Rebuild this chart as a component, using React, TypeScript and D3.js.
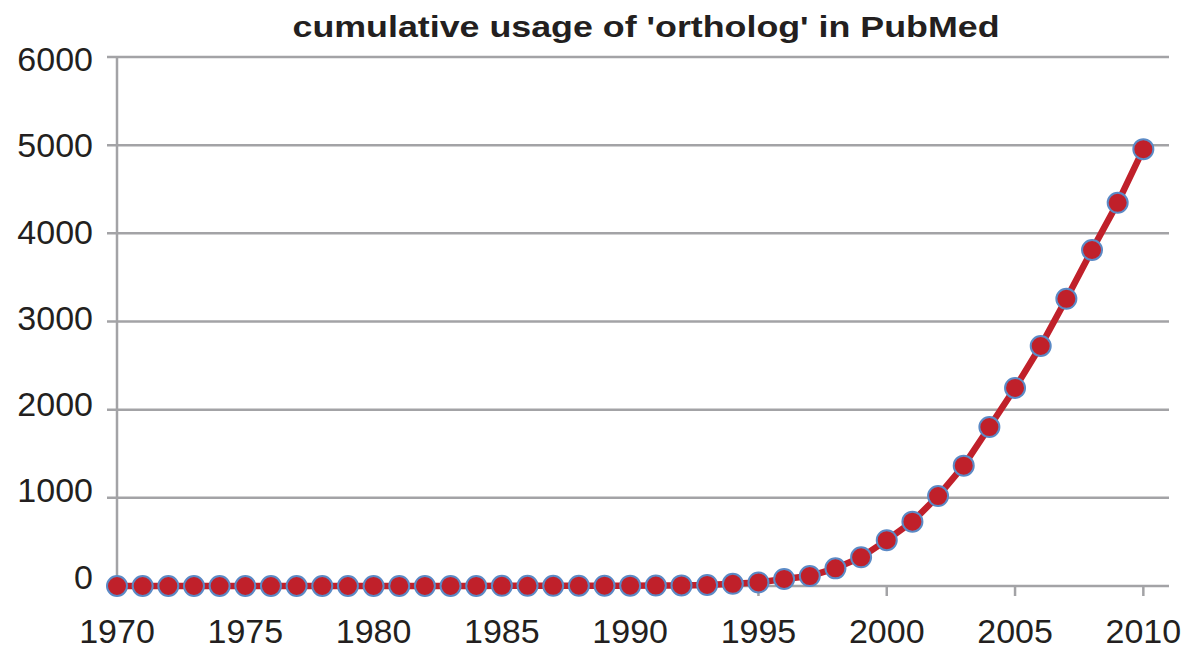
import React from 'react';
import * as d3 from 'd3';

// years shown on the x axis (one point per year)
const years = d3.range(1970, 2011);
// cumulative count of 'ortholog' papers
const counts = [
	0, 0, 0, 0, 0, 0, 0, 0, 0, 0,
	1, 1, 1, 1, 1, 2, 2, 2, 3, 3,
	4, 5, 7, 12, 25, 40, 80, 113, 200, 325,
	520, 730, 1020, 1365, 1803, 2246, 2722, 3257, 3811, 4346,
	4955
];
const yTicks = [0, 1000, 2000, 3000, 4000, 5000, 6000];
const xTicks = [1970, 1975, 1980, 1985, 1990, 1995, 2000, 2005, 2010];
const title = "cumulative usage of 'ortholog' in PubMed";

const width = 1186;
const height = 649;
const left = 117;
const right = 1169;
const top = 57;
const bottom = 586;

export default function App() {
	const x = d3.scaleLinear().domain([1970, 2011]).range([left, right]);
	const y = d3.scaleLinear().domain([0, 6000]).range([bottom, top]);
	// the tick labels in the original are spaced a little tighter than the grid
	const yLabel = d3.scaleLinear().domain([0, 6000]).range([576.5, 59]);

	const data = years.map((yr, i) => ({ year: yr, value: counts[i] }));

	const line = d3
		.line<{ year: number; value: number }>()
		.x(d => x(d.year))
		.y(d => y(d.value));

	const textColor = '#231f20';
	const gridColor = '#a3a3a6';

	return (
		<svg
			width={width}
			height={height}
			style={{ position: 'absolute', left: 0, top: 0, background: '#fff' }}
			fontFamily="'Liberation Sans', Arial, sans-serif"
		>
			<text
				x={646}
				y={37}
				textAnchor="middle"
				fontSize={30}
				fontWeight="bold"
				fill={textColor}
				textLength={707}
				lengthAdjust="spacingAndGlyphs"
			>
				{title}
			</text>

			{/* horizontal grid + y labels */}
			{yTicks.map(t => (
				<g key={t}>
					<line x1={left - 10} x2={right} y1={y(t)} y2={y(t)} stroke={gridColor} strokeWidth={2.5} />
					<text x={93} y={yLabel(t)} dy="0.36em" textAnchor="end" fontSize={34} fill={textColor}>
						{t}
					</text>
				</g>
			))}

			{/* y axis line */}
			<line x1={left} x2={left} y1={top} y2={bottom} stroke={gridColor} strokeWidth={2.5} />

			{/* x ticks + labels */}
			{xTicks.map(t => (
				<g key={t}>
					<line x1={x(t)} x2={x(t)} y1={bottom} y2={bottom + 10} stroke={gridColor} strokeWidth={2.5} />
					<text x={x(t)} y={643} textAnchor="middle" fontSize={34} fill={textColor}>
						{t}
					</text>
				</g>
			))}

			<path d={line(data) || ''} fill="none" stroke="#c0202a" strokeWidth={6.5} strokeLinejoin="round" />

			{data.map(d => (
				<circle
					key={d.year}
					cx={x(d.year)}
					cy={y(d.value)}
					r={10}
					fill="#c0202a"
					stroke="#5b8ac6"
					strokeWidth={2}
				/>
			))}
		</svg>
	);
}
